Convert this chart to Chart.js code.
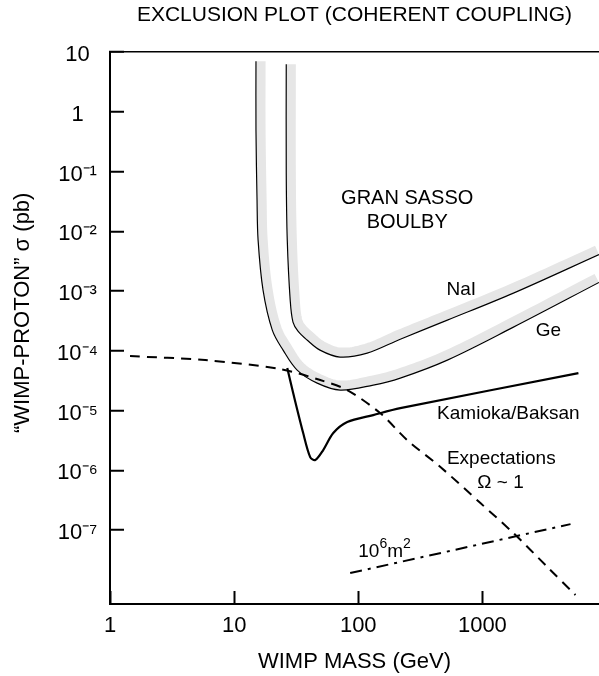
<!DOCTYPE html>
<html>
<head>
<meta charset="utf-8">
<title>Exclusion plot</title>
<script src="https://cdn.jsdelivr.net/npm/chart.js@4.4.0/dist/chart.umd.min.js"></script>
<style>
  html, body { margin: 0; padding: 0; background: #fff; }
  #wrap { width: 599px; height: 676px; }
</style>
</head>
<body>
<div id="wrap"><canvas id="exclusion-chart" width="599" height="676"></canvas></div>
<script>
// WIMP mass in GeV, cross section in pb
const geMass   = [15.0, 15.0, 15.3, 15.6, 17.1, 20.3, 24.8, 32.2, 46.7, 71.6, 132, 218, 522, 1778, 8700];
const geSigma  = [7.06, 0.495, 0.0334, 7.15e-3, 1.04e-3, 2.23e-4, 1.03e-4, 4.77e-5, 2.89e-5, 2.21e-5, 2.68e-5, 3.51e-5, 7.02e-5, 2.5e-4, 1.4e-3];

const naiMass  = [26.3, 26.3, 26.8, 28.3, 29.8, 32.7, 38.7, 49.2, 71.3, 118, 218, 522, 1778, 8700];
const naiSigma = [6.3, 0.0945, 7.15e-3, 7.08e-4, 3.03e-4, 2.14e-4, 1.52e-4, 1.03e-4, 7.87e-5, 9.18e-5, 1.57e-4, 3.27e-4, 9.27e-4, 4.1e-3];

const kamMass  = [26.8, 29.9, 36.0, 41.0, 45.0, 52.2, 62.9, 81.5, 132, 218, 5940];
const kamSigma = [5.16e-5, 1.97e-5, 4.21e-6, 1.67e-6, 1.49e-6, 2.19e-6, 4.21e-6, 6.44e-6, 8.43e-6, 1.1e-5, 4.25e-5];

const expMass  = [1.45, 5.84, 23.5, 49.4, 81.5, 150, 248, 459, 964, 1778, 3342, 5623];
const expSigma = [8.18e-5, 7.02e-5, 4.96e-5, 3.25e-5, 2.21e-5, 9.1e-6, 3.21e-6, 1.14e-6, 2.84e-7, 8.93e-8, 2.41e-8, 8.2e-9];

const areaMass  = [86.1, 5130];
const areaSigma = [1.91e-8, 1.26e-7];

const xTicks = [1, 10, 100, 1000];
const yTicks = [1e-7, 1e-6, 1e-5, 1e-4, 1e-3, 1e-2, 1e-1, 1, 10];
const yTickLabels = ['10⁻⁷', '10⁻⁶', '10⁻⁵', '10⁻⁴', '10⁻³', '10⁻²', '10⁻¹', '1', '10'];

const xMin = 1, xMax = 8700;
const yMin = 5.8e-9, yMax = 10;

const FONT = "'Liberation Sans', Arial, Helvetica, sans-serif";

const zip = (xs, ys) => xs.map((x, i) => ({ x: x, y: ys[i] }));

// text placed inside the plot, anchored in data units
const plotLabels = [
  { text: 'GRAN SASSO', x: 248, y: 0.036, size: 20 },
  { text: 'BOULBY', x: 248, y: 0.0143, size: 20 },
  { text: 'NaI', x: 677, y: 1.04e-3, size: 19 },
  { text: 'Ge', x: 3400, y: 2.14e-4, size: 19 },
  { text: 'Kamioka/Baksan', x: 1620, y: 8.75e-6, size: 19 },
  { text: 'Expectations', x: 1420, y: 1.55e-6, size: 19 },
  { text: 'Ω ~ 1', x: 1400, y: 6.14e-7, size: 19 }
];

// samples the drawn bezier curve of a line dataset into a polyline
function sampleLine(pts, steps) {
  const out = [];
  for (let k = 0; k < pts.length - 1; k++) {
    const a = pts[k], b = pts[k + 1];
    const c1x = a.cp2x !== undefined ? a.cp2x : a.x, c1y = a.cp2y !== undefined ? a.cp2y : a.y;
    const c2x = b.cp1x !== undefined ? b.cp1x : b.x, c2y = b.cp1y !== undefined ? b.cp1y : b.y;
    for (let s = (k === 0 ? 0 : 1); s <= steps; s++) {
      const t = s / steps, u = 1 - t;
      out.push({
        x: u * u * u * a.x + 3 * u * u * t * c1x + 3 * u * t * t * c2x + t * t * t * b.x,
        y: u * u * u * a.y + 3 * u * u * t * c1y + 3 * u * t * t * c2y + t * t * t * b.y
      });
    }
  }
  return out;
}

// light grey band on the excluded side (left of the drawing direction) of the NaI / Ge limits
const bandPlugin = {
  id: 'limitBand',
  beforeDatasetsDraw(chart) {
    const ctx = chart.ctx;
    const area = chart.chartArea;
    const half = 4.5;
    chart.data.datasets.forEach((ds, i) => {
      if (!ds.band) return;
      const meta = chart.getDatasetMeta(i);
      meta.dataset.updateControlPoints(area, 'x');
      const poly = sampleLine(meta.data, 12);
      ctx.save();
      ctx.beginPath();
      ctx.rect(area.left, area.top, area.right - area.left, area.bottom - area.top);
      ctx.clip();
      ctx.beginPath();
      for (let k = 0; k < poly.length; k++) {
        const p = poly[k];
        const q0 = poly[Math.max(k - 1, 0)], q1 = poly[Math.min(k + 1, poly.length - 1)];
        const dx = q1.x - q0.x, dy = q1.y - q0.y;
        const len = Math.hypot(dx, dy) || 1;
        const ox = p.x + (dy / len) * (half + 0.6);
        const oy = p.y - (dx / len) * (half + 0.6);
        if (k === 0) ctx.moveTo(ox, oy); else ctx.lineTo(ox, oy);
      }
      ctx.lineWidth = 2 * half;
      ctx.lineJoin = 'round';
      ctx.strokeStyle = '#e6e6e6';
      ctx.stroke();
      ctx.restore();
    });
  }
};

const labelPlugin = {
  id: 'plotLabels',
  afterDatasetsDraw(chart) {
    const { ctx, scales: { x, y } } = chart;
    ctx.save();
    ctx.fillStyle = '#000';
    ctx.textAlign = 'center';
    ctx.textBaseline = 'middle';
    plotLabels.forEach(l => {
      ctx.font = l.size + 'px ' + FONT;
      ctx.fillText(l.text, x.getPixelForValue(l.x), y.getPixelForValue(l.y));
    });

    // "10^6 m^2" with raised exponents
    const parts = [['10', false], ['6', true], ['m', false], ['2', true]];
    let px = x.getPixelForValue(100);
    const py = y.getPixelForValue(3.55e-8);
    ctx.textAlign = 'left';
    ctx.textBaseline = 'alphabetic';
    parts.forEach(([t, sup]) => {
      ctx.font = (sup ? 14 : 19) + 'px ' + FONT;
      ctx.fillText(t, px, sup ? py - 9 : py);
      px += ctx.measureText(t).width;
    });
    ctx.restore();
  }
};

const exclusionChart = () => {
  const option = {
    type: 'scatter',
    data: {
      datasets: [
        { label: 'NaI', data: zip(naiMass, naiSigma), band: true, borderColor: '#000', borderWidth: 1.2, tension: 0.35 },
        { label: 'Ge', data: zip(geMass, geSigma), band: true, borderColor: '#000', borderWidth: 1.2, tension: 0.35 },
        { label: 'Kamioka/Baksan', data: zip(kamMass, kamSigma), borderColor: '#000', borderWidth: 2.2, tension: 0.3 },
        { label: 'Expectations', data: zip(expMass, expSigma), borderColor: '#000', borderWidth: 2, borderDash: [10, 7], tension: 0.3 },
        { label: '10^6 m^2', data: zip(areaMass, areaSigma), borderColor: '#000', borderWidth: 2, borderDash: [12, 6, 3, 6] }
      ]
    },
    options: {
      responsive: false,
      animation: false,
      devicePixelRatio: 1,
      showLine: true,
      elements: { point: { radius: 0, hoverRadius: 0 } },
      layout: { padding: 0 },
      plugins: {
        legend: { display: false },
        tooltip: { enabled: false },
        title: {
          display: true,
          text: 'EXCLUSION PLOT (COHERENT COUPLING)',
          fullSize: false,
          color: '#000',
          font: { family: FONT, size: 21, weight: 'normal' },
          padding: { top: 3, bottom: 24 }
        }
      },
      scales: {
        x: {
          type: 'logarithmic',
          position: 'bottom',
          min: xMin,
          max: xMax,
          afterBuildTicks: s => { s.ticks = xTicks.map(v => ({ value: v })); },
          afterFit: s => { s.height = 72; },
          border: { color: '#000', width: 2 },
          grid: { drawOnChartArea: false, drawTicks: true, tickLength: -13, tickColor: '#000', tickWidth: 2 },
          ticks: { color: '#000', font: { family: FONT, size: 22 }, padding: 22, maxRotation: 0, autoSkip: false, callback: v => String(v) },
          title: { display: true, text: 'WIMP MASS (GeV)', color: '#000', font: { family: FONT, size: 22 }, padding: { top: 0, bottom: 1 } }
        },
        y: {
          type: 'logarithmic',
          position: 'left',
          min: yMin,
          max: yMax,
          afterBuildTicks: s => { s.ticks = yTicks.map(v => ({ value: v })); },
          afterFit: s => { s.width = 110; },
          border: { color: '#000', width: 2 },
          grid: {
            drawOnChartArea: true,
            color: c => (c.tick && c.tick.value === yMax) ? '#000' : 'rgba(0,0,0,0)',
            lineWidth: 1.5,
            drawTicks: true,
            tickLength: -14,
            tickColor: '#000',
            tickWidth: 2
          },
          ticks: { color: '#000', crossAlign: 'center', padding: 26, labelOffset: 3, font: { family: FONT, size: 22 }, autoSkip: false, callback: (v, i) => yTickLabels[i] },
          // leading spaces lift the rotated title a little above the axis middle
          title: { display: true, text: '\u00a0\u00a0\u00a0\u00a0\u00a0“WIMP-PROTON” σ (pb)', color: '#000', font: { family: FONT, size: 22 }, padding: { top: 10, bottom: 0 } }
        }
      }
    },
    plugins: [bandPlugin, labelPlugin]
  };
  const canvas = document.getElementById('exclusion-chart');
  new Chart(canvas, option);
};

exclusionChart();
</script>
</body>
</html>
